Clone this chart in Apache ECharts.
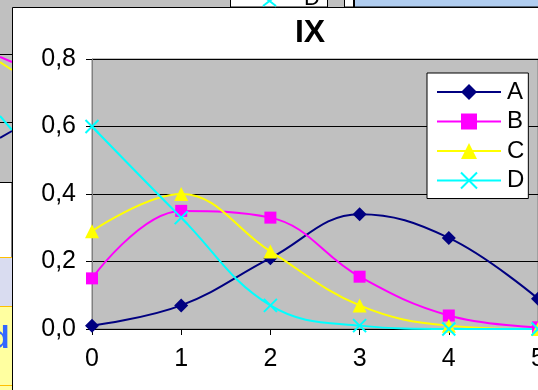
<!DOCTYPE html>
<html>
<head>
<meta charset="utf-8">
<script src="https://cdn.jsdelivr.net/npm/echarts@6/dist/echarts.min.js"></script>
<style>
html,body{margin:0;padding:0;background:#c0c0c0;}
#c{width:538px;height:390px;}
</style>
</head>
<body>
<div id="c"></div>
<script>
const categories = ['0', '1', '2', '3', '4', '5'];
const seriesNames = ['A', 'B', 'C', 'D'];
const valuesA = [0.01, 0.07, 0.21, 0.34, 0.27, 0.09];
const valuesB = [0.15, 0.35, 0.33, 0.155, 0.04, 0.005];
const valuesC = [0.29, 0.40, 0.23, 0.07, 0.01, 0.0];
const valuesD = [0.60, 0.33, 0.07, 0.01, 0.0, 0.0];
const yTickLabels = ['0,0', '0,2', '0,4', '0,6', '0,8'];
const titleText = 'IX';

const FONT = '"Liberation Sans", Arial, sans-serif';
const colors = ['#000080', '#ff00ff', '#ffff00', '#00ffff'];
const symbols = ['diamond', 'rect', 'triangle', 'path://M0,0L10,10M10,0L0,10'];
const symbolSizes = [14, 12, 14, 13];
const dataSets = [valuesA, valuesB, valuesC, valuesD];

const chart = echarts.init(document.getElementById('c'), null, {renderer: 'canvas'});

const bg = [
  {type: 'rect', shape: {x: 0, y: 0, width: 538, height: 390}, style: {fill: '#c0c0c0'}, z: -10},
  {type: 'line', shape: {x1: 0, y1: 54.5, x2: 12, y2: 54.5}, style: {stroke: '#000', lineWidth: 1}, z: -9},
  {type: 'line', shape: {x1: 0, y1: 122.5, x2: 12, y2: 122.5}, style: {stroke: '#000', lineWidth: 1}, z: -9},
  {type: 'line', shape: {x1: 0, y1: 57, x2: 12, y2: 62}, style: {stroke: '#ff00ff', lineWidth: 2}, z: -9},
  {type: 'line', shape: {x1: 0, y1: 62, x2: 12, y2: 70}, style: {stroke: '#ffff00', lineWidth: 2}, z: -9},
  {type: 'line', shape: {x1: 0, y1: 116, x2: 12, y2: 130}, style: {stroke: '#00ffff', lineWidth: 2}, z: -9},
  {type: 'line', shape: {x1: 0, y1: 138, x2: 12, y2: 131}, style: {stroke: '#000080', lineWidth: 2}, z: -9},
  {type: 'rect', shape: {x: -2, y: 182.5, width: 14, height: 75}, style: {fill: '#ffffff', stroke: '#000', lineWidth: 1}, z: -9},
  {type: 'rect', shape: {x: 0, y: 257, width: 12, height: 49}, style: {fill: '#d9dcf0'}, z: -9},
  {type: 'line', shape: {x1: 0, y1: 257.5, x2: 12, y2: 257.5}, style: {stroke: '#ffc000', lineWidth: 1}, z: -8},
  {type: 'rect', shape: {x: 0, y: 306, width: 12, height: 84}, style: {fill: '#ffffa0'}, z: -9},
  {type: 'line', shape: {x1: 0, y1: 306.5, x2: 12, y2: 306.5}, style: {stroke: '#ffc000', lineWidth: 1}, z: -8},
  {type: 'line', shape: {x1: 0, y1: 385.5, x2: 12, y2: 385.5}, style: {stroke: '#ffc000', lineWidth: 1}, z: -8},
  {type: 'text', style: {text: 'd', x: -10, y: 339, fill: '#3366ff', font: 'bold 32px ' + FONT, textVerticalAlign: 'middle'}, z: -8},
  {type: 'rect', shape: {x: 230.5, y: -5, width: 97, height: 12}, style: {fill: '#ffffff', stroke: '#000', lineWidth: 1}, z: -9},
  {type: 'line', shape: {x1: 263, y1: -4, x2: 276, y2: 6}, style: {stroke: '#00ffff', lineWidth: 2}, z: -8},
  {type: 'line', shape: {x1: 276, y1: -4, x2: 263, y2: 6}, style: {stroke: '#00ffff', lineWidth: 2}, z: -8},
  {type: 'text', style: {text: 'D', x: 304, y: -12, fill: '#000', font: '22px ' + FONT, textVerticalAlign: 'top'}, z: -8},
  {type: 'rect', shape: {x: 344.5, y: -5, width: 9, height: 12}, style: {fill: '#ffffff', stroke: '#000', lineWidth: 1}, z: -9},
  {type: 'rect', shape: {x: 354.5, y: -5, width: 190, height: 12}, style: {fill: '#b0cdf0', stroke: '#000', lineWidth: 1}, z: -9},
  {type: 'rect', shape: {x: 12.5, y: 7.5, width: 540, height: 400}, style: {fill: '#ffffff', stroke: '#000', lineWidth: 1}, z: -5}
];

const option = {
  animation: false,
  backgroundColor: 'transparent',
  graphic: bg,
  title: {
    text: titleText,
    left: 305,
    top: 12,
    textAlign: 'center',
    textStyle: {fontFamily: FONT, fontSize: 32, fontWeight: 'bold', color: '#000'}
  },
  grid: {
    left: 92, top: 59, width: 446, height: 270,
    show: true, backgroundColor: '#c0c0c0', borderColor: '#808080', borderWidth: 1,
    containLabel: false,
    outerBoundsMode: 'none'
  },
  xAxis: {
    type: 'category',
    data: categories,
    boundaryGap: false,
    axisLine: {show: true, lineStyle: {color: '#000', width: 1}},
    axisTick: {show: true, length: 6, alignWithLabel: true, lineStyle: {color: '#000'}},
    axisLabel: {margin: 18, fontFamily: FONT, fontSize: 25, color: '#000', showMaxLabel: true, hideOverlap: false},
    splitLine: {show: false}
  },
  yAxis: {
    type: 'value',
    min: 0, max: 0.8, interval: 0.2,
    axisLine: {show: true, lineStyle: {color: '#808080', width: 1}},
    axisTick: {show: true, length: 6, lineStyle: {color: '#000'}},
    axisLabel: {
      margin: 16, fontFamily: FONT, fontSize: 25, color: '#000',
      formatter: function (v) { return yTickLabels[Math.round(v / 0.2)]; }
    },
    splitLine: {show: true, lineStyle: {color: '#000', width: 1}}
  },
  legend: {
    orient: 'vertical',
    left: 427, top: 73,
    width: 98,
    padding: [7, 4, 6, 9],
    itemGap: 5.5,
    itemWidth: 64, itemHeight: 20,
    backgroundColor: '#ffffff',
    borderColor: '#000', borderWidth: 1,
    data: seriesNames,
    textStyle: {fontFamily: FONT, fontSize: 24, color: '#000', padding: [0, 0, 0, 1], lineHeight: 23}
  },
  series: seriesNames.map(function (name, i) {
    return {
      name: name,
      type: 'line',
      data: dataSets[i],
      smooth: 0.4,
      symbol: symbols[i],
      symbolSize: symbolSizes[i],
      showAllSymbol: true,
      clip: false,
      lineStyle: {color: colors[i], width: 2},
      itemStyle: i === 3 ? {color: colors[i], borderColor: colors[i], borderWidth: 2} : {color: colors[i], borderWidth: 0},
      emphasis: {disabled: true}
    };
  })
};
chart.setOption(option);
</script>
</body>
</html>
